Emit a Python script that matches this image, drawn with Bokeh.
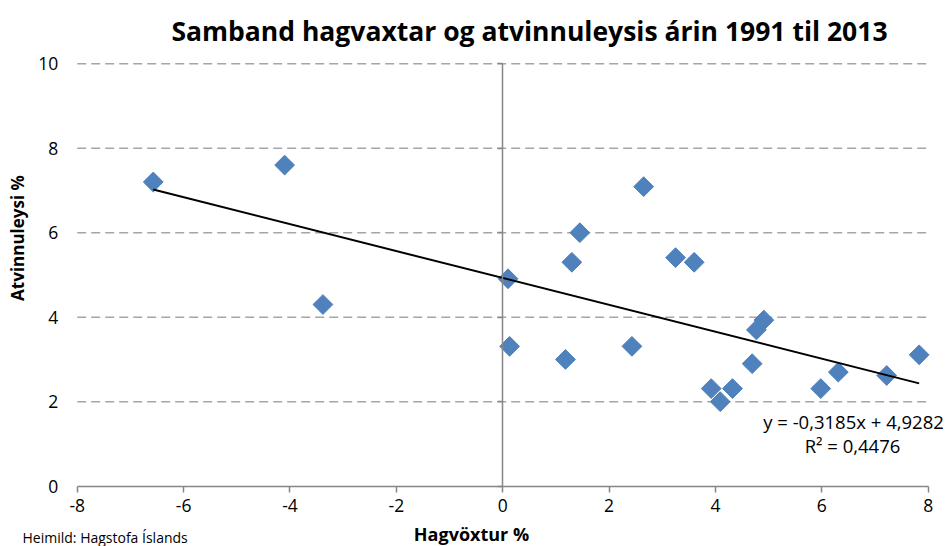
import math
from bokeh.plotting import figure
from bokeh.models import Label, LinearAxis, FixedTicker, CustomJSTickFormatter
from bokeh.embed import file_html
from bokeh.resources import INLINE

# Data (hagvöxtur %, atvinnuleysi %)
growth = [-6.57, -4.10, -3.38, 0.10, 0.13, 1.18, 1.30, 1.45, 2.43, 2.65, 3.25,
          3.60, 3.92, 4.09, 4.32, 4.69, 4.77, 4.91, 5.98, 6.31, 7.22, 7.83]
unemployment = [7.20, 7.60, 4.30, 4.91, 3.31, 3.00, 5.30, 6.00, 3.31, 7.09, 5.41,
                5.30, 2.31, 2.00, 2.31, 2.90, 3.70, 3.93, 2.31, 2.70, 2.62, 3.11]
trend_slope = -0.3185
trend_intercept = 4.9282
x_ticks = [-8, -6, -4, -2, 0, 2, 4, 6, 8]
y_ticks = [0, 2, 4, 6, 8, 10]

title_text = "Samband hagvaxtar og atvinnuleysis árin 1991 til 2013"
x_label = "Hagvöxtur %"
y_label = "Atvinnuleysi %"
source_text = "Heimild: Hagstofa Íslands"
eq_text = "y = -0,3185x + 4,9282"
r2_text = "R² = 0,4476"

FONT = "Open Sans"
W, H = 944, 546

# Layout: where the axis box (x -8..8, y 0..10) sits on the canvas, in px
BOX_L, BOX_R, BOX_T, BOX_B = 76.7, 927.7, 63.2, 485.7
XMIN, XMAX, YMIN, YMAX = x_ticks[0], x_ticks[-1], y_ticks[0], y_ticks[-1]
sx = (BOX_R - BOX_L) / (XMAX - XMIN)
sy = (BOX_B - BOX_T) / (YMAX - YMIN)
x_range = (XMIN - BOX_L / sx, XMAX + (W - BOX_R) / sx)
y_range = (YMIN - (H - BOX_B) / sy, YMAX + BOX_T / sy)

p = figure(width=W, height=H, x_range=x_range, y_range=y_range,
           output_backend="svg", toolbar_location=None,
           min_border=0, outline_line_color=None)

plain = CustomJSTickFormatter(code="return tick.toString();")

# Grid: dashed horizontal lines across the axis box only
p.xgrid.grid_line_color = None
p.ygrid.grid_line_color = None
grid_y = y_ticks[1:]
p.segment(x0=[XMIN] * len(grid_y), y0=grid_y, x1=[XMAX] * len(grid_y), y1=grid_y,
          line_color="#A6A6A6", line_width=1.5, line_dash="9 5")

# X axis drawn along y = 0
xa = p.xaxis[0]
xa.fixed_location = 0
xa.bounds = (XMIN, XMAX)
xa.ticker = FixedTicker(ticks=x_ticks)
xa.formatter = plain
xa.axis_line_color = "#868686"
xa.axis_line_width = 1.5
xa.major_tick_line_color = "#868686"
xa.major_tick_line_width = 1.5
xa.major_tick_out = 6
xa.major_tick_in = 0
xa.minor_tick_line_color = None
xa.major_label_standoff = 7
xa.major_label_text_font = FONT
xa.major_label_text_font_size = "17.5px"
xa.major_label_text_color = "#000000"

# Y tick labels along the left edge of the box (no line)
ya = p.yaxis[0]
ya.fixed_location = XMIN
ya.bounds = (YMIN, YMAX)
ya.ticker = FixedTicker(ticks=y_ticks)
ya.formatter = plain
ya.axis_line_color = None
ya.major_tick_line_color = None
ya.minor_tick_line_color = None
ya.major_tick_out = 0
ya.major_tick_in = 0
ya.major_label_standoff = 19
ya.major_label_text_font = FONT
ya.major_label_text_font_size = "17.5px"
ya.major_label_text_color = "#000000"

# Vertical axis line crossing at x = 0
yaxis0 = LinearAxis(fixed_location=0, bounds=(YMIN, YMAX),
                    ticker=FixedTicker(ticks=y_ticks),
                    axis_line_color="#868686", axis_line_width=1.5,
                    major_tick_line_color="#868686", major_tick_line_width=1.5,
                    major_tick_out=5, major_tick_in=0,
                    minor_tick_line_color=None,
                    major_label_text_alpha=0, major_label_text_font_size="1px",
                    major_label_standoff=0)
p.add_layout(yaxis0, "left")

# Points
p.scatter(growth, unemployment, marker="square", size=14, angle=math.pi / 4,
          fill_color="#4F81BD", line_color="#4F81BD", line_width=1)

# Trend line
tx = [min(growth), max(growth)]
ty = [trend_slope * v + trend_intercept for v in tx]
p.line(tx, ty, line_color="#000000", line_width=2)

# Texts (canvas pixel positions; screen y counts up from the bottom)
def lab(x, y, text, size, bold=False, align="center", angle=0.0):
    p.add_layout(Label(x=x, y=H - y, x_units="screen", y_units="screen",
                       text=text, text_font=FONT,
                       text_font_style="bold" if bold else "normal",
                       text_font_size=size, text_align=align,
                       text_baseline="middle", angle=angle,
                       text_color="#000000"))

lab(529, 30, title_text, "26.5px", bold=True)
lab(17, 237.5, y_label, "17px", bold=True, angle=math.pi / 2)
lab(471, 533, x_label, "18px", bold=True)
lab(22, 537, source_text, "14px", align="left")
lab(853, 420.5, eq_text, "18.5px")
lab(852, 445, r2_text, "18.5px")

open("out.html", "w").write(file_html(p, INLINE))
